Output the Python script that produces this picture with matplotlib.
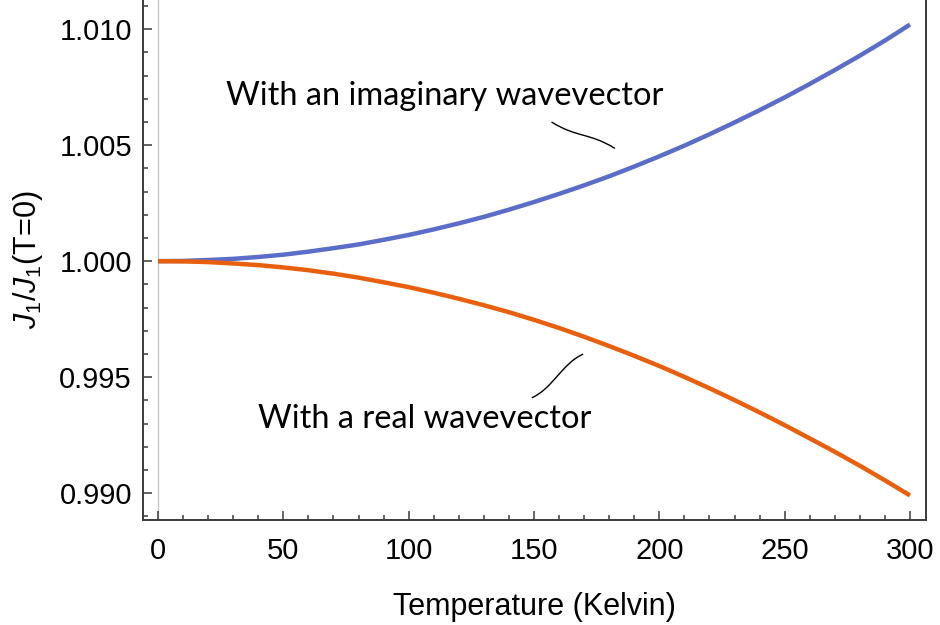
import numpy as np
import matplotlib
matplotlib.use("Agg")
import matplotlib.pyplot as plt
from matplotlib.path import Path
from matplotlib.patches import PathPatch
from matplotlib.ticker import MultipleLocator, FormatStrFormatter

plt.rcParams['font.family'] = ['Liberation Sans', 'DejaVu Sans']
plt.rcParams['mathtext.fontset'] = 'custom'
plt.rcParams['mathtext.rm'] = 'Liberation Sans'
plt.rcParams['mathtext.it'] = 'Liberation Sans:italic'

# ---- data ----
temperature = [0, 10, 20, 30, 40, 50, 60, 70, 80, 90, 100, 110, 120, 130, 140, 150,
               160, 170, 180, 190, 200, 210, 220, 230, 240, 250, 260, 270, 280, 290, 300]
j_imaginary = [1.00000, 1.00001, 1.00005, 1.00010, 1.00018, 1.00028, 1.00041, 1.00056,
               1.00072, 1.00092, 1.00113, 1.00137, 1.00163, 1.00191, 1.00222, 1.00255,
               1.00290, 1.00327, 1.00366, 1.00408, 1.00452, 1.00498, 1.00547, 1.00598,
               1.00651, 1.00706, 1.00764, 1.00824, 1.00886, 1.00951, 1.01020]
j_real = [1.00000, 0.99999, 0.99996, 0.99990, 0.99983, 0.99973, 0.99961, 0.99946,
          0.99929, 0.99909, 0.99888, 0.99864, 0.99838, 0.99810, 0.99780, 0.99747,
          0.99712, 0.99674, 0.99634, 0.99592, 0.99548, 0.99501, 0.99452, 0.99401,
          0.99348, 0.99293, 0.99236, 0.99178, 0.99118, 0.99055, 0.98990]
x_ticks = [0, 50, 100, 150, 200, 250, 300]
y_ticks = [0.990, 0.995, 1.000, 1.005, 1.010]

label_imag = "With an imaginary wavevector"
label_real = "With a real wavevector"
label_imag_pos = (114.5, 1.00672)
label_real_pos = (106.5, 0.99280)
# connector curves: (start, end) in data coordinates
conn_imag = ((157.0, 1.00600), (182.3, 1.00486))
conn_real = ((149.1, 0.99411), (169.6, 0.99599))

BLUE = '#5B6DC8'
ORANGE = '#E8600E'
AXC = '#3a3a3a'

fig = plt.figure(figsize=(9.4, 6.25), dpi=100)
ax = fig.add_axes([143/940, 1 - 520/625, (926 - 143)/940, 520/625])

ax.axvline(0, color='#c8c8c8', lw=1.0, zorder=1)
ax.plot(temperature, j_imaginary, color=BLUE, lw=3.2, solid_capstyle='butt', zorder=3)
ax.plot(temperature, j_real, color=ORANGE, lw=3.2, solid_capstyle='butt', zorder=3)

ax.set_xlim(-6, 306.4)
ax.set_ylim(0.98884, 1.01126)

ax.set_xticks(x_ticks)
ax.set_yticks(y_ticks)
ax.xaxis.set_minor_locator(MultipleLocator(10))
ax.yaxis.set_minor_locator(MultipleLocator(0.001))
ax.yaxis.set_major_formatter(FormatStrFormatter('%.3f'))

ax.tick_params(which='both', direction='in', color=AXC, width=1.1,
               top=False, right=False, labelsize=21, labelcolor='black')
ax.tick_params(which='major', length=6.5)
ax.tick_params(which='minor', length=3.6)
ax.tick_params(axis='x', which='major', pad=12)
ax.tick_params(axis='y', which='major', pad=8)

for side in ['left', 'bottom', 'right']:
    ax.spines[side].set_color(AXC)
    ax.spines[side].set_linewidth(1.4)
ax.spines['top'].set_visible(False)

ax.set_xlabel('Temperature (Kelvin)', fontsize=22, labelpad=20)
ax.set_ylabel(r'$\mathit{J}_1/\mathit{J}_1$(T=0)', fontsize=22, labelpad=10)

ax.text(*label_imag_pos, label_imag, family=['Lato', 'DejaVu Sans'], fontsize=23.5,
        ha='center', va='baseline', color='black')
ax.text(*label_real_pos, label_real, family=['Lato', 'DejaVu Sans'], fontsize=23.5,
        ha='center', va='baseline', color='black')


def s_curve(start, end, f1, f2):
    (x0, y0), (x3, y3) = start, end
    w, h = x3 - x0, y3 - y0
    p1 = (x0 + f1[0] * w, y0 + f1[1] * h)
    p2 = (x0 + f2[0] * w, y0 + f2[1] * h)
    return Path([start, p1, p2, end], [Path.MOVETO, Path.CURVE4, Path.CURVE4, Path.CURVE4])


ax.add_patch(PathPatch(s_curve(*conn_imag, (0.4, 0.6), (0.6, 0.4)),
                       fill=False, lw=1.0, color='black', zorder=4))
ax.add_patch(PathPatch(s_curve(*conn_real, (0.4, 0.2), (0.6, 0.8)),
                       fill=False, lw=1.0, color='black', zorder=4))

fig.savefig('out.png', dpi=100)
